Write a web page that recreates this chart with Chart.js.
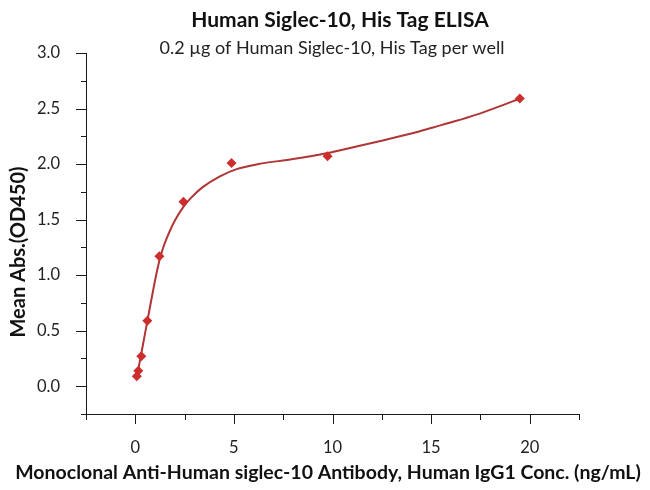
<!DOCTYPE html>
<html>
<head>
<meta charset="utf-8">
<script src="https://cdn.jsdelivr.net/npm/chart.js@4"></script>
<style>
  html, body { margin: 0; padding: 0; background: #fff; }
  #wrap { width: 650px; height: 490px; position: relative; }
</style>
</head>
<body>
<div id="wrap"><canvas id="c" width="650" height="490"></canvas></div>
<script>
// ---- Data ----
const titleText = "Human Siglec-10, His Tag ELISA";
const subtitleText = "0.2 \u00b5g of Human Siglec-10, His Tag per well";
const xAxisTitle = "Monoclonal Anti-Human siglec-10 Antibody, Human IgG1 Conc. (ng/mL)";
const yAxisTitle = "Mean Abs.(OD450)";

// measured points (concentration ng/mL, OD450)
const concentrations = [19.5, 9.75, 4.88, 2.44, 1.22, 0.61, 0.305, 0.152, 0.076];
const meanAbs = [2.59, 2.07, 2.01, 1.66, 1.17, 0.59, 0.27, 0.14, 0.09];

// fitted curve
const curveX = [0.076, 0.15, 0.3, 0.6, 0.9, 1.05, 1.22, 1.4, 1.6, 2.0, 2.44, 2.85, 3.4, 4.29, 5.14, 6.24, 8.0, 9.75, 11.0, 12.6, 14.0, 15.1, 16.2, 17.3, 18.4, 19.5];
const curveY = [0.08, 0.15, 0.29, 0.575, 0.86, 0.995, 1.13, 1.24, 1.335, 1.49, 1.615, 1.70, 1.79, 1.89, 1.955, 2.0, 2.045, 2.10, 2.15, 2.215, 2.275, 2.33, 2.385, 2.445, 2.515, 2.59];

// axis ranges / ticks
const xMin = -2.5, xMax = 22.5, xStep = 2.5, xLabelEvery = 5;
const yMin = -0.25, yMax = 3.0, yStep = 0.25, yLabelEvery = 0.5;

const FONT = "Lato, 'Open Sans', 'DejaVu Sans', sans-serif";

function isMultiple(v, m) {
  const r = v / m;
  return Math.abs(r - Math.round(r)) < 1e-6;
}

const pointData = concentrations.map((x, i) => ({ x: x, y: meanAbs[i] }));
const curveData = curveX.map((x, i) => ({ x: x, y: curveY[i] }));

// draws major/minor tick marks via the scales
const tickPlugin = {
  id: 'tickMarks',
  afterDraw(chart) {
    const ctx = chart.ctx;
    const xs = chart.scales.x, ys = chart.scales.y;
    ctx.save();
    ctx.strokeStyle = '#1a1a1a';
    ctx.lineWidth = 1;
    ctx.beginPath();
    xs.ticks.forEach(t => {
      const px = Math.round(xs.getPixelForValue(t.value)) + 0.5;
      const len = isMultiple(t.value, xLabelEvery) ? 10 : 6;
      ctx.moveTo(px, xs.top);
      ctx.lineTo(px, xs.top + len);
    });
    ys.ticks.forEach(t => {
      const py = Math.round(ys.getPixelForValue(t.value)) + 0.5;
      const len = isMultiple(t.value, yLabelEvery) ? 10 : 5;
      ctx.moveTo(ys.right, py);
      ctx.lineTo(ys.right - len, py);
    });
    ctx.stroke();
    ctx.restore();
  }
};

// titles placed at the reference positions
const textPlugin = {
  id: 'texts',
  afterDraw(chart) {
    const ctx = chart.ctx;
    ctx.save();
    ctx.fillStyle = '#111';
    ctx.textAlign = 'center';
    ctx.textBaseline = 'middle';
    ctx.font = "bold 21px " + FONT;
    ctx.fillText(titleText, 340, 20);
    ctx.font = "18px " + FONT;
    ctx.fillStyle = '#222';
    ctx.fillText(subtitleText, 332, 48);
    ctx.fillStyle = '#111';
    ctx.font = "bold 19.5px " + FONT;
    ctx.fillText(xAxisTitle, 328, 473);
    ctx.translate(19, 252);
    ctx.rotate(-Math.PI / 2);
    ctx.font = "bold 20px " + FONT;
    ctx.fillText(yAxisTitle, 0, 0);
    ctx.restore();
  }
};

new Chart(document.getElementById('c'), {
  type: 'scatter',
  data: {
    datasets: [
      {
        label: 'Fit',
        data: curveData,
        showLine: true,
        borderColor: '#b03636',
        borderWidth: 2,
        pointRadius: 0,
        pointHoverRadius: 0,
        cubicInterpolationMode: 'monotone',
        fill: false,
        order: 2
      },
      {
        label: 'Mean Abs.',
        data: pointData,
        showLine: false,
        pointStyle: 'rectRot',
        pointRadius: 5,
        backgroundColor: '#cc2e2e',
        borderColor: '#cc2e2e',
        borderWidth: 0,
        order: 1
      }
    ]
  },
  options: {
    responsive: false,
    animation: false,
    events: [],
    layout: { autoPadding: false, padding: { top: 53, right: 71, left: 0, bottom: 0 } },
    plugins: {
      legend: { display: false },
      tooltip: { enabled: false },
      title: { display: false }
    },
    scales: {
      x: {
        type: 'linear',
        min: xMin, max: xMax,
        afterFit(s) { s.height = 76; },
        grid: { display: false },
        border: { display: true, color: '#1a1a1a', width: 1 },
        ticks: {
          stepSize: xStep,
          autoSkip: false,
          maxRotation: 0,
          padding: 16,
          color: '#222',
          font: { family: FONT, size: 16.5 },
          callback: v => isMultiple(v, xLabelEvery) ? String(Math.round(v)) : ''
        }
      },
      y: {
        type: 'linear',
        min: yMin, max: yMax,
        afterFit(s) { s.width = 86; },
        grid: { display: false },
        border: { display: true, color: '#1a1a1a', width: 1 },
        ticks: {
          stepSize: yStep,
          autoSkip: false,
          padding: 18,
          color: '#222',
          font: { family: FONT, size: 16.5 },
          callback: v => isMultiple(v, yLabelEvery) ? v.toFixed(1) : ''
        }
      }
    }
  },
  plugins: [tickPlugin, textPlugin]
});
</script>
</body>
</html>
